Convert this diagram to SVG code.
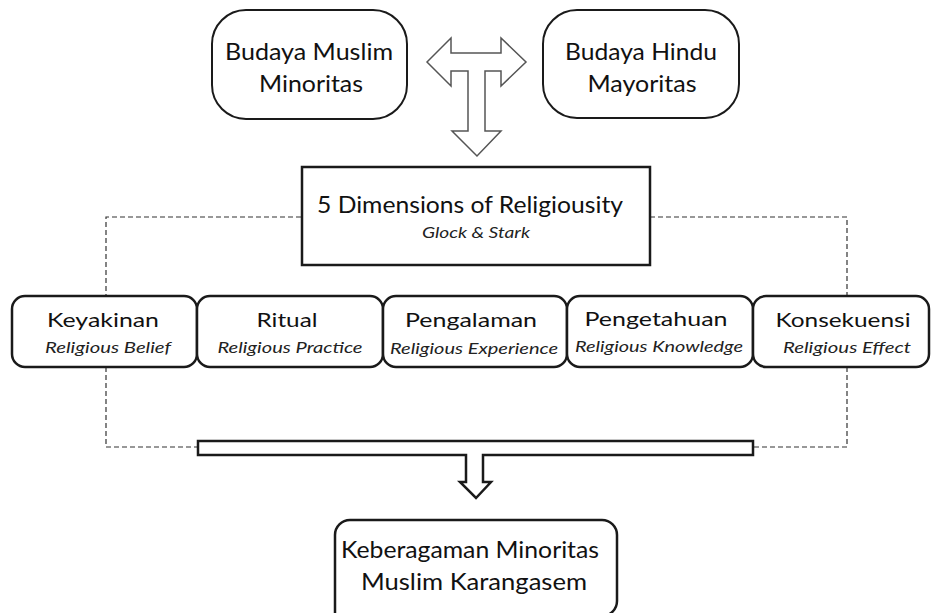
<svg xmlns="http://www.w3.org/2000/svg" width="931" height="613" viewBox="0 0 931 613">
<style>
  .box { fill: #fff; stroke: #1a1a1a; stroke-width: 2.5; }
  .top { fill: #fff; stroke: #1a1a1a; stroke-width: 2; }
  .t { font-family: Lato, "Open Sans", sans-serif; fill: #111; text-anchor: middle; }
  .big { font-size: 24px; }
  .mid { font-size: 20px; }
  .it { font-family: Lato, "Open Sans", sans-serif; font-style: italic; font-size: 16px; fill: #222; text-anchor: middle; }
  .dash { fill: none; stroke: #333; stroke-width: 1.2; stroke-dasharray: 5 3; }
  .arrow { fill: #fff; stroke: #555; stroke-width: 1.5; stroke-linejoin: miter; }
  .bar { fill: #fff; stroke: #1a1a1a; stroke-width: 2.5; }
</style>
<rect width="931" height="613" fill="#fff"/>
<g id="connectors">
  <path class="dash" d="M301,217 H106 V296 M106,367 V447 H198"/>
  <path class="dash" d="M650,217 H847 V296 M847,367 V447 H753"/>
  <path class="arrow" d="M427,62 L451,38 L451,53 L501,53 L501,38 L526,62 L501,86 L501,71 L485,71 L485,131 L501,131 L477,156 L452,131 L468,131 L468,71 L451,71 L451,86 Z"/>
  <path class="bar" d="M198,441 H753 V455 H483 V482 H491 L476,498 L460,482 H466 V455 H198 Z"/>
</g>
<g id="budaya-muslim">
  <rect class="top" x="212" y="10" width="195" height="109" rx="34" ry="34"/>
  <text class="t big" x="309" y="60" textLength="168" lengthAdjust="spacingAndGlyphs">Budaya Muslim</text>
  <text class="t big" x="311" y="92" textLength="104" lengthAdjust="spacingAndGlyphs">Minoritas</text>
</g>
<g id="budaya-hindu">
  <rect class="top" x="543" y="10" width="196" height="108" rx="34" ry="34"/>
  <text class="t big" x="641" y="60" textLength="152" lengthAdjust="spacingAndGlyphs">Budaya Hindu</text>
  <text class="t big" x="642" y="92" textLength="109" lengthAdjust="spacingAndGlyphs">Mayoritas</text>
</g>
<g id="dimensions">
  <rect class="box" x="302" y="167" width="348" height="98"/>
  <text class="t big" x="470" y="213" textLength="306" lengthAdjust="spacingAndGlyphs">5 Dimensions of Religiousity</text>
  <text class="it" x="476" y="238" textLength="108" lengthAdjust="spacingAndGlyphs">Glock &amp; Stark</text>
</g>
<g id="keyakinan">
  <rect class="box" x="12" y="296" width="185" height="71" rx="13" ry="13"/>
  <text class="t mid" x="103" y="327" textLength="112" lengthAdjust="spacingAndGlyphs">Keyakinan</text>
  <text class="it" x="108" y="353" textLength="126" lengthAdjust="spacingAndGlyphs">Religious Belief</text>
</g>
<g id="ritual">
  <rect class="box" x="197" y="296" width="186" height="71" rx="13" ry="13"/>
  <text class="t mid" x="287" y="327" textLength="61" lengthAdjust="spacingAndGlyphs">Ritual</text>
  <text class="it" x="290" y="353" textLength="145" lengthAdjust="spacingAndGlyphs">Religious Practice</text>
</g>
<g id="pengalaman">
  <rect class="box" x="383" y="296" width="184" height="71" rx="13" ry="13"/>
  <text class="t mid" x="471" y="327" textLength="132" lengthAdjust="spacingAndGlyphs">Pengalaman</text>
  <text class="it" x="474" y="354" textLength="168" lengthAdjust="spacingAndGlyphs">Religious Experience</text>
</g>
<g id="pengetahuan">
  <rect class="box" x="567" y="296" width="186" height="71" rx="13" ry="13"/>
  <text class="t mid" x="656" y="326" textLength="143" lengthAdjust="spacingAndGlyphs">Pengetahuan</text>
  <text class="it" x="659" y="352" textLength="168" lengthAdjust="spacingAndGlyphs">Religious Knowledge</text>
</g>
<g id="konsekuensi">
  <rect class="box" x="753" y="296" width="176" height="71" rx="13" ry="13"/>
  <text class="t mid" x="843" y="327" textLength="135" lengthAdjust="spacingAndGlyphs">Konsekuensi</text>
  <text class="it" x="847" y="353" textLength="128" lengthAdjust="spacingAndGlyphs">Religious Effect</text>
</g>
<g id="keberagaman">
  <path class="box" d="M335,625 V535 A15,15 0 0 1 350,520 H602 A15,15 0 0 1 617,535 V601 A15,15 0 0 1 602,616 H335"/>
  <text class="t big" x="470" y="558" textLength="258" lengthAdjust="spacingAndGlyphs">Keberagaman Minoritas</text>
  <text class="t big" x="474" y="590" textLength="226" lengthAdjust="spacingAndGlyphs">Muslim Karangasem</text>
</g>
</svg>
